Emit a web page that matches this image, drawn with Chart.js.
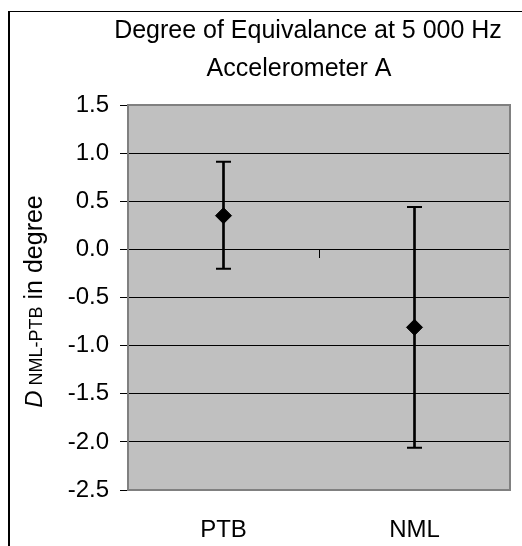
<!DOCTYPE html>
<html>
<head>
<meta charset="utf-8">
<script src="https://cdn.jsdelivr.net/npm/chart.js@4.4.0/dist/chart.umd.min.js"></script>
<style>
  body { margin: 0; background: #fff; }
  #wrap { position: relative; width: 522px; height: 546px; overflow: hidden; }
  #frame { position: absolute; left: 8px; top: 11px; width: 600px; height: 600px;
           border-left: 2px solid #000; border-top: 1px solid #000; pointer-events: none; }
  canvas { display: block; }
</style>
</head>
<body>
<div id="wrap">
  <canvas id="chart" width="522" height="546"></canvas>
  <div id="frame"></div>
</div>
<script>
// labs and degree of equivalence values
const labs = ['PTB', 'NML'];
const dValues = [0.35, -0.81];
const upperEnd = [0.91, 0.44];
const lowerEnd = [-0.20, -2.06];

const titleLines = ['Degree of Equivalance at 5 000 Hz', 'Accelerometer A'];
const yMin = -2.5, yMax = 1.5, yStep = 0.5;

const FONT = '"Liberation Sans", Arial, sans-serif';

// grey plot area and its frame
const plotArea = {
  id: 'plotArea',
  beforeDraw(chart) {
    const { ctx, chartArea: a } = chart;
    ctx.save();
    ctx.fillStyle = '#C0C0C0';
    ctx.fillRect(a.left, a.top, a.right - a.left, a.bottom - a.top);
    ctx.restore();
  },
  beforeDatasetsDraw(chart) {
    const { ctx, chartArea: a } = chart;
    ctx.save();
    ctx.strokeStyle = '#808080';
    ctx.lineWidth = 2;
    ctx.strokeRect(a.left, a.top, a.right - a.left, a.bottom - a.top);
    ctx.restore();
  }
};

// two title lines, and the y title with italic D and small NML-PTB
const texts = {
  id: 'texts',
  afterDraw(chart) {
    const { ctx, chartArea: a } = chart;
    ctx.save();
    ctx.fillStyle = '#000';
    ctx.font = '25px ' + FONT;
    ctx.textAlign = 'center';
    ctx.textBaseline = 'middle';
    ctx.fillText(titleLines[0], 308, 31);
    ctx.fillText(titleLines[1], 299, 69);
    ctx.restore();

    const parts = [
      { t: 'D', f: 'italic 24px ' + FONT },
      { t: ' ', f: '18px ' + FONT },
      { t: 'NML-PTB', f: '18px ' + FONT },
      { t: ' in degree', f: '25px ' + FONT }
    ];
    ctx.save();
    let total = 0;
    parts.forEach(p => { ctx.font = p.f; p.w = ctx.measureText(p.t).width; total += p.w; });
    ctx.translate(42, (a.top + a.bottom) / 2 + 4);
    ctx.rotate(-Math.PI / 2);
    ctx.fillStyle = '#000';
    ctx.textBaseline = 'alphabetic';
    ctx.textAlign = 'left';
    let x = -total / 2;
    parts.forEach(p => { ctx.font = p.f; ctx.fillText(p.t, x, 0); x += p.w; });
    ctx.restore();
  }
};

new Chart(document.getElementById('chart').getContext('2d'), {
  type: 'bar',
  data: {
    labels: labs,
    datasets: [
      {
        type: 'line',
        label: 'D',
        data: dValues,
        showLine: false,
        pointStyle: 'rectRot',
        pointRadius: 8,
        pointBackgroundColor: '#000',
        pointBorderColor: '#000',
        pointBorderWidth: 1,
        order: 0
      },
      {
        type: 'line',
        label: 'upper',
        data: upperEnd,
        showLine: false,
        pointStyle: 'line',
        pointRadius: 7.5,
        pointBorderColor: '#000',
        pointBorderWidth: 2,
        order: 1
      },
      {
        type: 'line',
        label: 'lower',
        data: lowerEnd,
        showLine: false,
        pointStyle: 'line',
        pointRadius: 7.5,
        pointBorderColor: '#000',
        pointBorderWidth: 2,
        order: 1
      },
      {
        label: 'U',
        data: labs.map((l, i) => [lowerEnd[i], upperEnd[i]]),
        backgroundColor: '#000',
        borderWidth: 0,
        barThickness: 2,
        order: 2
      }
    ]
  },
  options: {
    responsive: false,
    animation: false,
    devicePixelRatio: 1,
    layout: { padding: { left: 0, right: 12, top: 105, bottom: 0 } },
    plugins: {
      legend: { display: false },
      tooltip: { enabled: false },
      title: { display: false }
    },
    scales: {
      x: {
        type: 'category',
        offset: true,
        grid: { display: false, drawTicks: false },
        border: { display: false },
        ticks: { color: '#000', font: { family: FONT, size: 24 }, padding: 26, maxRotation: 0 },
        afterFit(scale) { scale.height = 56; }
      },
      x2: {
        type: 'category',
        position: { y: 0 },
        offset: true,
        grid: { drawOnChartArea: false, offset: true, tickLength: 8, color: '#000', lineWidth: 1 },
        border: { display: true, color: '#000', width: 1 },
        ticks: { display: false }
      },
      y: {
        min: yMin,
        max: yMax,
        grid: { color: '#000', lineWidth: 1, tickLength: 8, tickColor: '#000' },
        border: { display: false },
        ticks: {
          stepSize: yStep,
          color: '#000',
          padding: 11,
          font: { family: FONT, size: 24 },
          callback: v => Number(v).toFixed(1)
        },
        afterFit(scale) { scale.width = 128; }
      }
    }
  },
  plugins: [plotArea, texts]
});
</script>
</body>
</html>
